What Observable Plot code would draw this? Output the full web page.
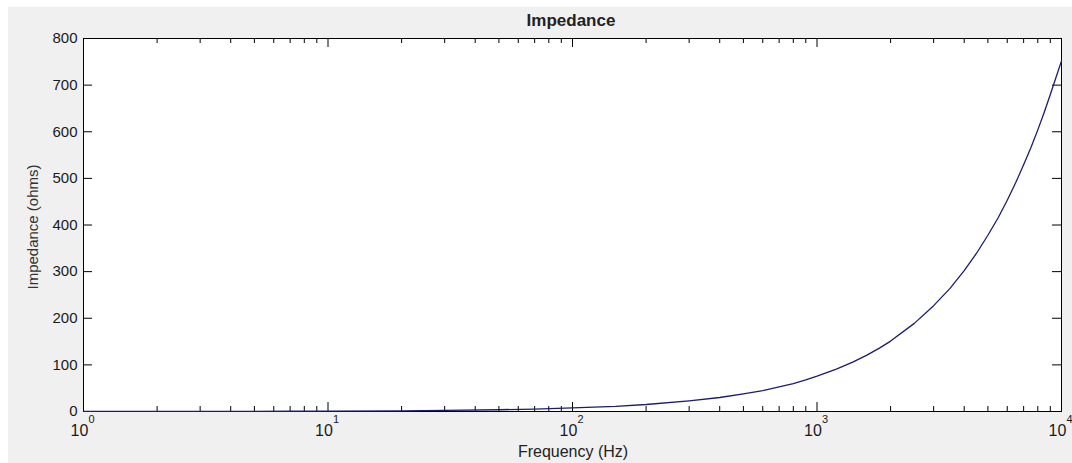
<!DOCTYPE html>
<html><head><meta charset="utf-8">
<script src="https://cdn.jsdelivr.net/npm/d3@7"></script>
<script src="https://cdn.jsdelivr.net/npm/@observablehq/plot@0.6"></script>
<style>
html,body{margin:0;padding:0;background:#fff;width:1072px;height:463px;overflow:hidden;}
#fig{position:absolute;left:8px;top:7px;width:1064px;height:456px;background:#f0f0f0;}
#chart{position:absolute;left:0;top:0;}
.t{position:absolute;font-family:"Liberation Sans",Arial,sans-serif;color:#222;white-space:nowrap;line-height:1;}
#title{left:571px;top:20px;font-size:17px;font-weight:bold;transform:translate(-50%,-50%);}
#ylab{left:32px;top:227px;font-size:15px;color:#333;transform:translate(-50%,-50%) rotate(-90deg);}
#xlab{left:573px;top:452px;font-size:16px;color:#222;transform:translate(-50%,-50%);}
</style></head><body>
<div id="fig"></div>
<div id="chart"></div>
<div class="t" id="title">Impedance</div>
<div class="t" id="ylab">Impedance (ohms)</div>
<div class="t" id="xlab">Frequency (Hz)</div>
<script>
// Frequency (Hz) and impedance (ohms)
const freq = [1,2,3,5,7,10,20,30,50,70,100,150,200,300,400,500,600,700,800,900,1000,1200,1400,1600,1800,2000,2500,3000,3500,4000,4500,5000,5500,6000,6500,7000,7500,8000,8500,9000,9500,10000];
const impedance = [0.1,0.2,0.2,0.4,0.5,0.8,1.5,2.3,3.8,5.3,7.6,11,15,23,30,38,45,53,60,68,76,91,106,121,136,151,189,227,264,302,340,378,415,453,491,529,566,604,642,680,717,752];
const yTicks = [0,100,200,300,400,500,600,700,800];
const xDecades = [1,10,100,1000,10000];
const xExponents = ["0","1","2","3","4"];
const xMinor = [2,3,4,5,6,7,8,9,20,30,40,50,60,70,80,90,200,300,400,500,600,700,800,900,2000,3000,4000,5000,6000,7000,8000,9000];

const data = freq.map((f,i)=>({f, z: impedance[i]}));
const W = 1072, H = 463, mL = 83, mR = 11, mT = 38, mB = 52;
const pw = W - mL - mR, ph = H - mT - mB;
const major = 9, minor = 5;
const decadeLabels = xDecades.map((d,i)=>({d, e: xExponents[i]}));

const chart = Plot.plot({
  width: W, height: H,
  marginLeft: mL, marginRight: mR, marginTop: mT, marginBottom: mB,
  x: {type: "log", domain: [1, 10000], axis: null},
  y: {domain: [0, 800]},
  style: {background: "transparent", fontFamily: "'Liberation Sans', Arial, sans-serif", fontSize: "15px", color: "#1a1a1a"},
  marks: [
    Plot.frame({fill: "white", stroke: "none"}),
    Plot.ruleX(xDecades, {x: d=>d, insetTop: ph - major, stroke: "black"}),
    Plot.ruleX(xDecades, {x: d=>d, insetBottom: ph - major, stroke: "black"}),
    Plot.ruleX(xMinor, {x: d=>d, insetTop: ph - minor, stroke: "black"}),
    Plot.ruleX(xMinor, {x: d=>d, insetBottom: ph - minor, stroke: "black"}),
    Plot.ruleY(yTicks, {y: d=>d, insetRight: pw - major, stroke: "black"}),
    Plot.ruleY(yTicks, {y: d=>d, insetLeft: pw - major, stroke: "black"}),
    Plot.axisY({ticks: yTicks, tickSize: 0, tickPadding: 6, label: null, fontSize: 15}),
    Plot.text(decadeLabels, {x: "d", text: ()=>"10", frameAnchor: "bottom", lineAnchor: "middle", dy: 19, dx: -4, fontSize: 16, fill: "#1a1a1a"}),
    Plot.text(decadeLabels, {x: "d", text: "e", frameAnchor: "bottom", lineAnchor: "middle", dy: 8, dx: 8, fontSize: 11, fill: "#1a1a1a"}),
    Plot.frame({stroke: "black", strokeWidth: 1}),
    Plot.line(data, {x: "f", y: "z", stroke: "#1c1c6e", strokeWidth: 1.3})
  ]
});
document.getElementById("chart").appendChild(chart);
</script>
</body></html>
